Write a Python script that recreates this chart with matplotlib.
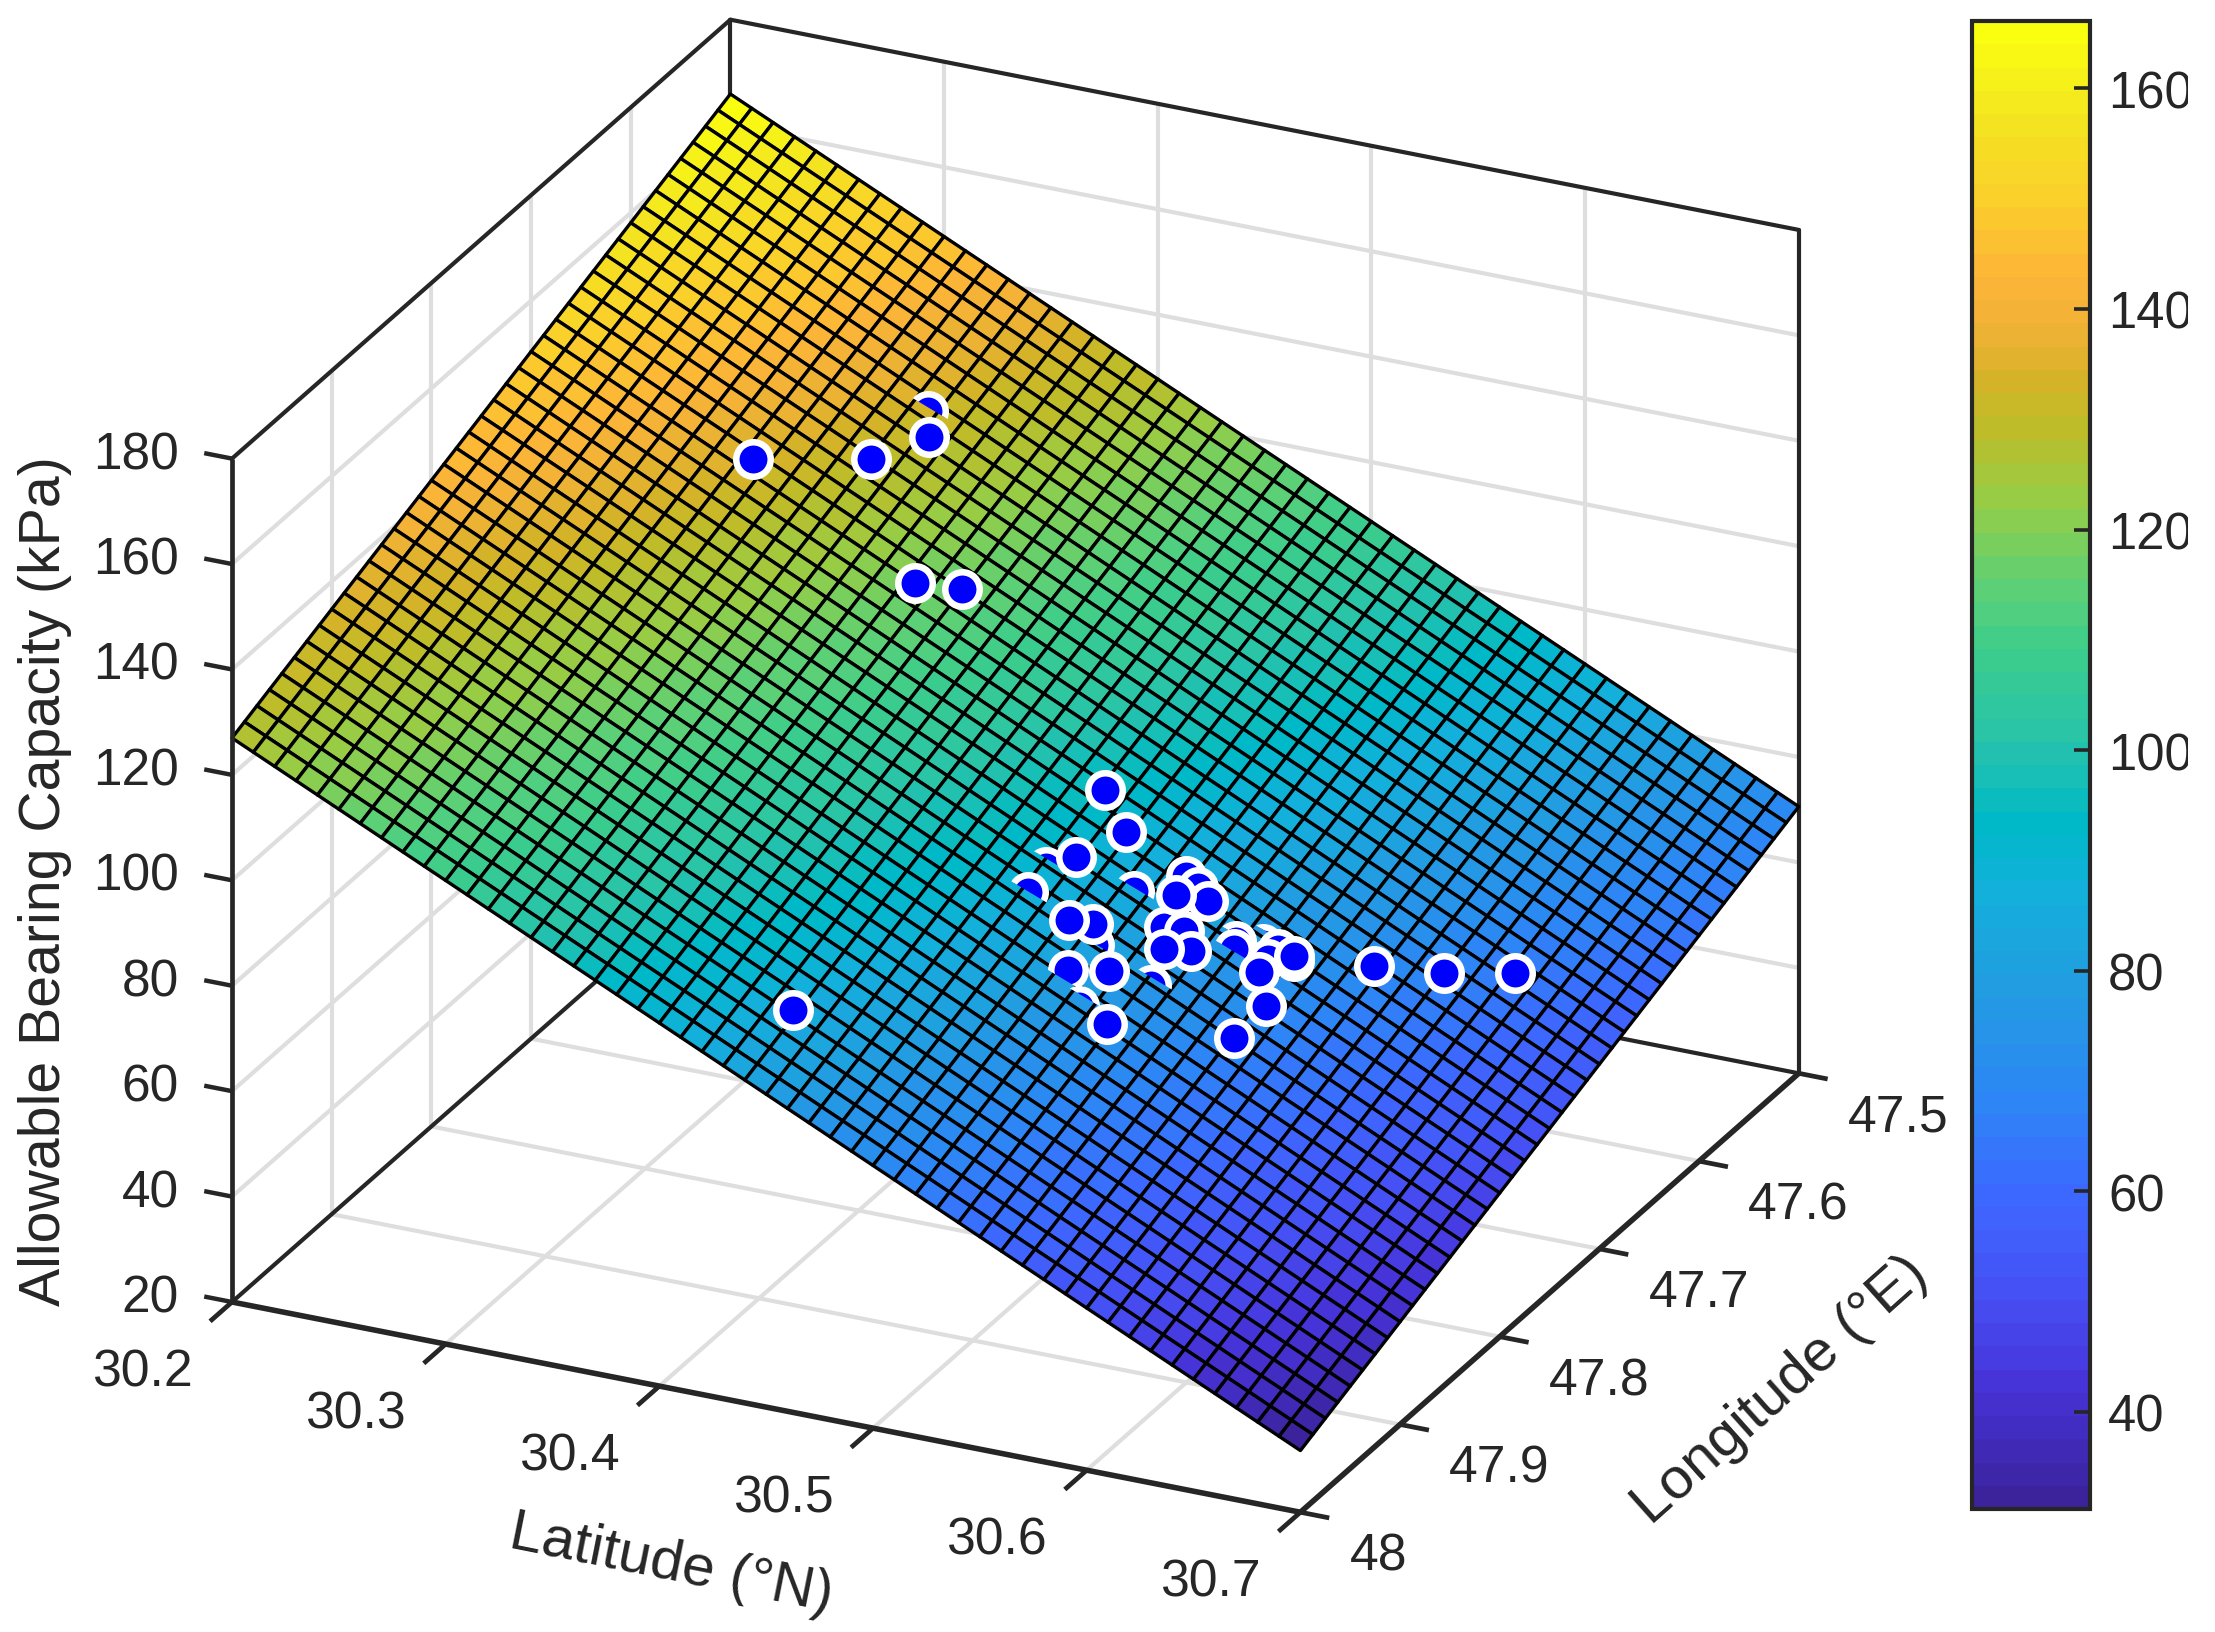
import numpy as np
import matplotlib
matplotlib.use("Agg")
import matplotlib.pyplot as plt
from matplotlib.colors import LinearSegmentedColormap, Normalize
from matplotlib.cm import ScalarMappable
from matplotlib.patches import Rectangle
from matplotlib.path import Path
from matplotlib.transforms import IdentityTransform
from mpl_toolkits.mplot3d import proj3d

plt.rcParams['font.family'] = ['Liberation Sans', 'DejaVu Sans']

# ---- data ----
lat_ticks = [30.2, 30.3, 30.4, 30.5, 30.6, 30.7]
lon_ticks = [47.5, 47.6, 47.7, 47.8, 47.9, 48.0]
lon_tick_labels = ['47.5', '47.6', '47.7', '47.8', '47.9', '48']
z_ticks = [20, 40, 60, 80, 100, 120, 140, 160, 180]
cbar_ticks = [40, 60, 80, 100, 120, 140, 160]

# fitted plane: value at (30.2, 47.5) and slopes per degree
plane_origin = 165.9
plane_slope_lat = -190.6
plane_slope_lon = -77.8
n_lat_cells = 50
n_lon_cells = 40

point_lat = [30.3371, 30.4831, 30.4836, 30.5160, 30.5168, 30.5268, 30.5440, 30.5594, 30.5684,
             30.5284, 30.5347, 30.5412, 30.5338, 30.5410, 30.5479, 30.5112, 30.5742, 30.5735,
             30.5820, 30.5607, 30.5808, 30.5031, 30.5148, 30.5277, 30.5397, 30.5299, 30.5391,
             30.5741, 30.5844, 30.5822, 30.2947, 30.3311, 30.3437, 30.3745, 30.3902, 30.4396,
             30.4829, 30.4994, 30.4900, 30.6079, 30.6311, 30.6530]
point_lon = [47.5954, 47.7899, 47.8089, 47.7721, 47.8140, 47.8504, 47.8150, 47.7629, 47.7552,
             47.7466, 47.7482, 47.7519, 47.7803, 47.7755, 47.7834, 47.8031, 47.7526, 47.7612,
             47.7533, 47.7677, 47.7507, 47.8097, 47.8357, 47.8222, 47.8501, 47.7598, 47.7916,
             47.7714, 47.7865, 47.8138, 47.6799, 47.6395, 47.6084, 47.6885, 47.6750, 47.9512,
             47.7302, 47.7446, 47.7745, 47.7285, 47.7081, 47.6838]
point_val = [132.5, 90.2, 88.65, 85.25, 81.95, 77.3, 76.7, 77.7, 76.6,
             84.8, 83.5, 82.0, 81.2, 80.25, 78.3, 83.8, 75.7, 75.1,
             74.1, 77.1, 74.5, 84.9, 80.7, 79.3, 74.9, 83.5, 79.4,
             74.3, 71.2, 69.5, 134.2, 130.3, 130.3, 118.4, 116.4, 86.3,
             94.7, 90.5, 90.0, 71.1, 68.2, 65.8]
# how the surface cuts the markers that sit just under it (px below the centre; None = whole)
point_cut = [-4, -8, 0, -3, -2, -12, -8, -6, -14,
             None, None, None, None, None, None, None, None, None,
             None, 3, None, None, 12, None, None, None, None,
             None, None, None, None, None, None, None, None, None,
             None, None, None, None, None, None]

cmap_pos = [0.0, 0.074, 0.14, 0.208, 0.275, 0.343, 0.41, 0.46, 0.517, 0.578, 0.625,
            0.68, 0.73, 0.766, 0.80, 0.833, 0.88, 0.948, 1.0]
cmap_rgb = [(60, 35, 155), (70, 50, 215), (70, 80, 245), (60, 105, 255), (45, 135, 245),
            (35, 155, 225), (20, 175, 220), (0, 185, 200), (40, 195, 170), (60, 205, 140),
            (95, 208, 115), (150, 205, 70), (190, 188, 40), (215, 178, 40), (240, 178, 55),
            (253, 180, 55), (251, 205, 45), (243, 232, 30), (250, 255, 15)]
cbar_min, cbar_max = 31.2, 166.1

# ---- figure ----
W, H = 2215, 1633
DARK = '#262626'
GRID = '#dedede'
fig = plt.figure(figsize=(W / 100, H / 100), dpi=100, facecolor='white')
ax = fig.add_axes([0.1, 0.1, 0.6, 0.6 * W / H], projection='3d',
                  computed_zorder=False, proj_type='ortho')
ax.patch.set_visible(False)
ax.set_axis_off()
ax.set_xlim(30.2, 30.7, view_margin=0)
ax.set_ylim(48.0, 47.5, view_margin=0)
ax.set_zlim(20, 180, view_margin=0)
ax.view_init(elev=24.6, azim=-64.7)
ax.set_box_aspect((837, 826, 657))


def project(x, y, z):
    xs, ys, _ = proj3d.proj_transform(x, y, z, ax.get_proj())
    return float(xs), float(ys)


def to_display(x, y, z):
    return ax.transData.transform(project(x, y, z))


# place the axes so that the box corners land where they are in the reference
target_a = np.array([232.0, H - 1303.0])
target_b = np.array([1798.0, H - 1069.0])
side, left, bottom = 1300.0, 300.0, 100.0
for _ in range(4):
    ax.set_position([left / W, bottom / H, side / W, side / H])
    ax.apply_aspect()
    a = to_display(30.2, 48.0, 20)
    b = to_display(30.7, 47.5, 20)
    ratio = np.linalg.norm(target_b - target_a) / np.linalg.norm(b - a)
    side *= ratio
    ax.set_position([left / W, bottom / H, side / W, side / H])
    ax.apply_aspect()
    a = to_display(30.2, 48.0, 20)
    left += target_a[0] - a[0]
    bottom += target_a[1] - a[1]
ax.set_position([left / W, bottom / H, side / W, side / H])
ax.apply_aspect()

xa, xb = lat_ticks[0], lat_ticks[-1]
ya, yb = lon_ticks[0], lon_ticks[-1]   # back, front
za, zb = z_ticks[0], z_ticks[-1]

# grid on the two back walls and on the floor
gkw = dict(color=GRID, lw=3.0, zorder=1, solid_capstyle='butt')
for x in lat_ticks[1:-1]:
    ax.plot([x, x], [ya, ya], [za, zb], **gkw)
    ax.plot([x, x], [ya, yb], [za, za], **gkw)
for y in lon_ticks[1:-1]:
    ax.plot([xa, xa], [y, y], [za, zb], **gkw)
    ax.plot([xa, xb], [y, y], [za, za], **gkw)
for z in z_ticks[1:-1]:
    ax.plot([xa, xa], [ya, yb], [z, z], **gkw)
    ax.plot([xa, xb], [ya, ya], [z, z], **gkw)

# box
fkw = dict(color=DARK, lw=3.0, zorder=2, solid_capstyle='round')
ax.plot([xa, xa], [yb, ya], [zb, zb], **fkw)
ax.plot([xa, xb], [ya, ya], [zb, zb], **fkw)
ax.plot([xa, xa], [ya, ya], [za, zb], **fkw)
ax.plot([xb, xb], [ya, ya], [za, zb], **fkw)
ax.plot([xa, xa], [yb, ya], [za, za], **fkw)
ax.plot([xa, xb], [ya, ya], [za, za], **fkw)

# surface
cmap = LinearSegmentedColormap.from_list('parula_like',
                                         [(p, tuple(c / 255 for c in rgb)) for p, rgb in zip(cmap_pos, cmap_rgb)],
                                         N=64)
norm = Normalize(cbar_min, cbar_max)
grid_lat, grid_lon = np.meshgrid(np.linspace(xa, xb, n_lat_cells + 1), np.linspace(ya, yb, n_lon_cells + 1))
grid_val = plane_origin + plane_slope_lat * (grid_lat - xa) + plane_slope_lon * (grid_lon - ya)
ax.plot_surface(grid_lat, grid_lon, grid_val, rstride=1, cstride=1, cmap=cmap, norm=norm,
                edgecolor='black', linewidth=2.4, antialiased=True, shade=False, zorder=5)

# front axes and ticks
akw = dict(color=DARK, zorder=6, solid_capstyle='butt')
ax.plot([xa, xa], [yb, yb], [za, zb], lw=3.4, **akw)
ax.plot([xa, xb], [yb, yb], [za, za], lw=4.0, **akw)
ax.plot([xb, xb], [yb, ya], [za, za], lw=4.0, **akw)
lat_tick_len = 0.022
lon_tick_len = 0.0135
z_tick_len = 0.013
for x in lat_ticks:
    ax.plot([x, x], [yb, yb + lat_tick_len], [za, za], lw=3.4, **akw)
for y in lon_ticks:
    ax.plot([xb, xb + lon_tick_len], [y, y], [za, za], lw=3.4, **akw)
for z in z_ticks:
    ax.plot([xa, xa - z_tick_len], [yb, yb], [z, z], lw=3.2, **akw)

# points
for i, (la, lo, v, cut) in enumerate(zip(point_lat, point_lon, point_val, point_cut)):
    col = ax.scatter([la], [lo], [v], s=615, color=(0, 0, 1), edgecolors='white',
                     linewidths=4.7, depthshade=False, zorder=10 + i * 0.01)
    if cut is not None:
        xd, yd = to_display(la, lo, v)
        clip = Path([(xd - 60, yd - cut + 36), (xd + 60, yd - cut - 36),
                     (xd + 60, yd + 80), (xd - 60, yd + 80), (xd - 60, yd - cut + 36)], closed=True)
        col.set_clip_path(clip, IdentityTransform())


def tick_label(x, y, z, text, dx, dy, ha='center', size=37.3):
    ax.annotate(text, xy=project(x, y, z), xycoords='data', xytext=(dx * 0.72, -dy * 0.72),
                textcoords='offset points', ha=ha, va='center', fontsize=size, color=DARK,
                annotation_clip=False, zorder=20)


for x in lat_ticks:
    tick_label(x, yb, za, f'{x:.1f}', -89, 70)
for y, s in zip(lon_ticks, lon_tick_labels):
    tick_label(xb, y, za, s, 49, 44, ha='left')
for z in z_ticks:
    tick_label(xa, yb, z, str(z), -53, -4, ha='right', size=37)

fig.text(45 / W, 1 - 881 / H, 'Allowable Bearing Capacity (kPa)', rotation=90, ha='center', va='center',
         fontsize=41.2, color=DARK)
fig.text(671 / W, 1 - 1565 / H, 'Latitude (°N)', rotation=-11.3, rotation_mode='anchor', ha='center',
         va='center', fontsize=42, color=DARK)
fig.text(1781 / W, 1 - 1391 / H, 'Longitude (°E)', rotation=41.7, rotation_mode='anchor', ha='center',
         va='center', fontsize=42, color=DARK)

# colour bar
cax = fig.add_axes([1972 / W, 1 - 1510 / H, (2090 - 1972) / W, (1510 - 22) / H])
cb = fig.colorbar(ScalarMappable(norm=norm, cmap=cmap), cax=cax)
cb.set_ticks(cbar_ticks)
cb.ax.tick_params(direction='in', length=11.5, width=2.6, color=DARK, labelcolor=DARK,
                  labelsize=36.5, pad=13)
cb.outline.set_edgecolor(DARK)
cb.outline.set_linewidth(3.0)

# the reference is cropped on the right through the colour-bar labels
fig.add_artist(Rectangle((2188 / W, 0), (W - 2188) / W, 1, transform=fig.transFigure,
                         facecolor='white', edgecolor='none', zorder=100))

fig.savefig('out.png', dpi=100, facecolor='white')
